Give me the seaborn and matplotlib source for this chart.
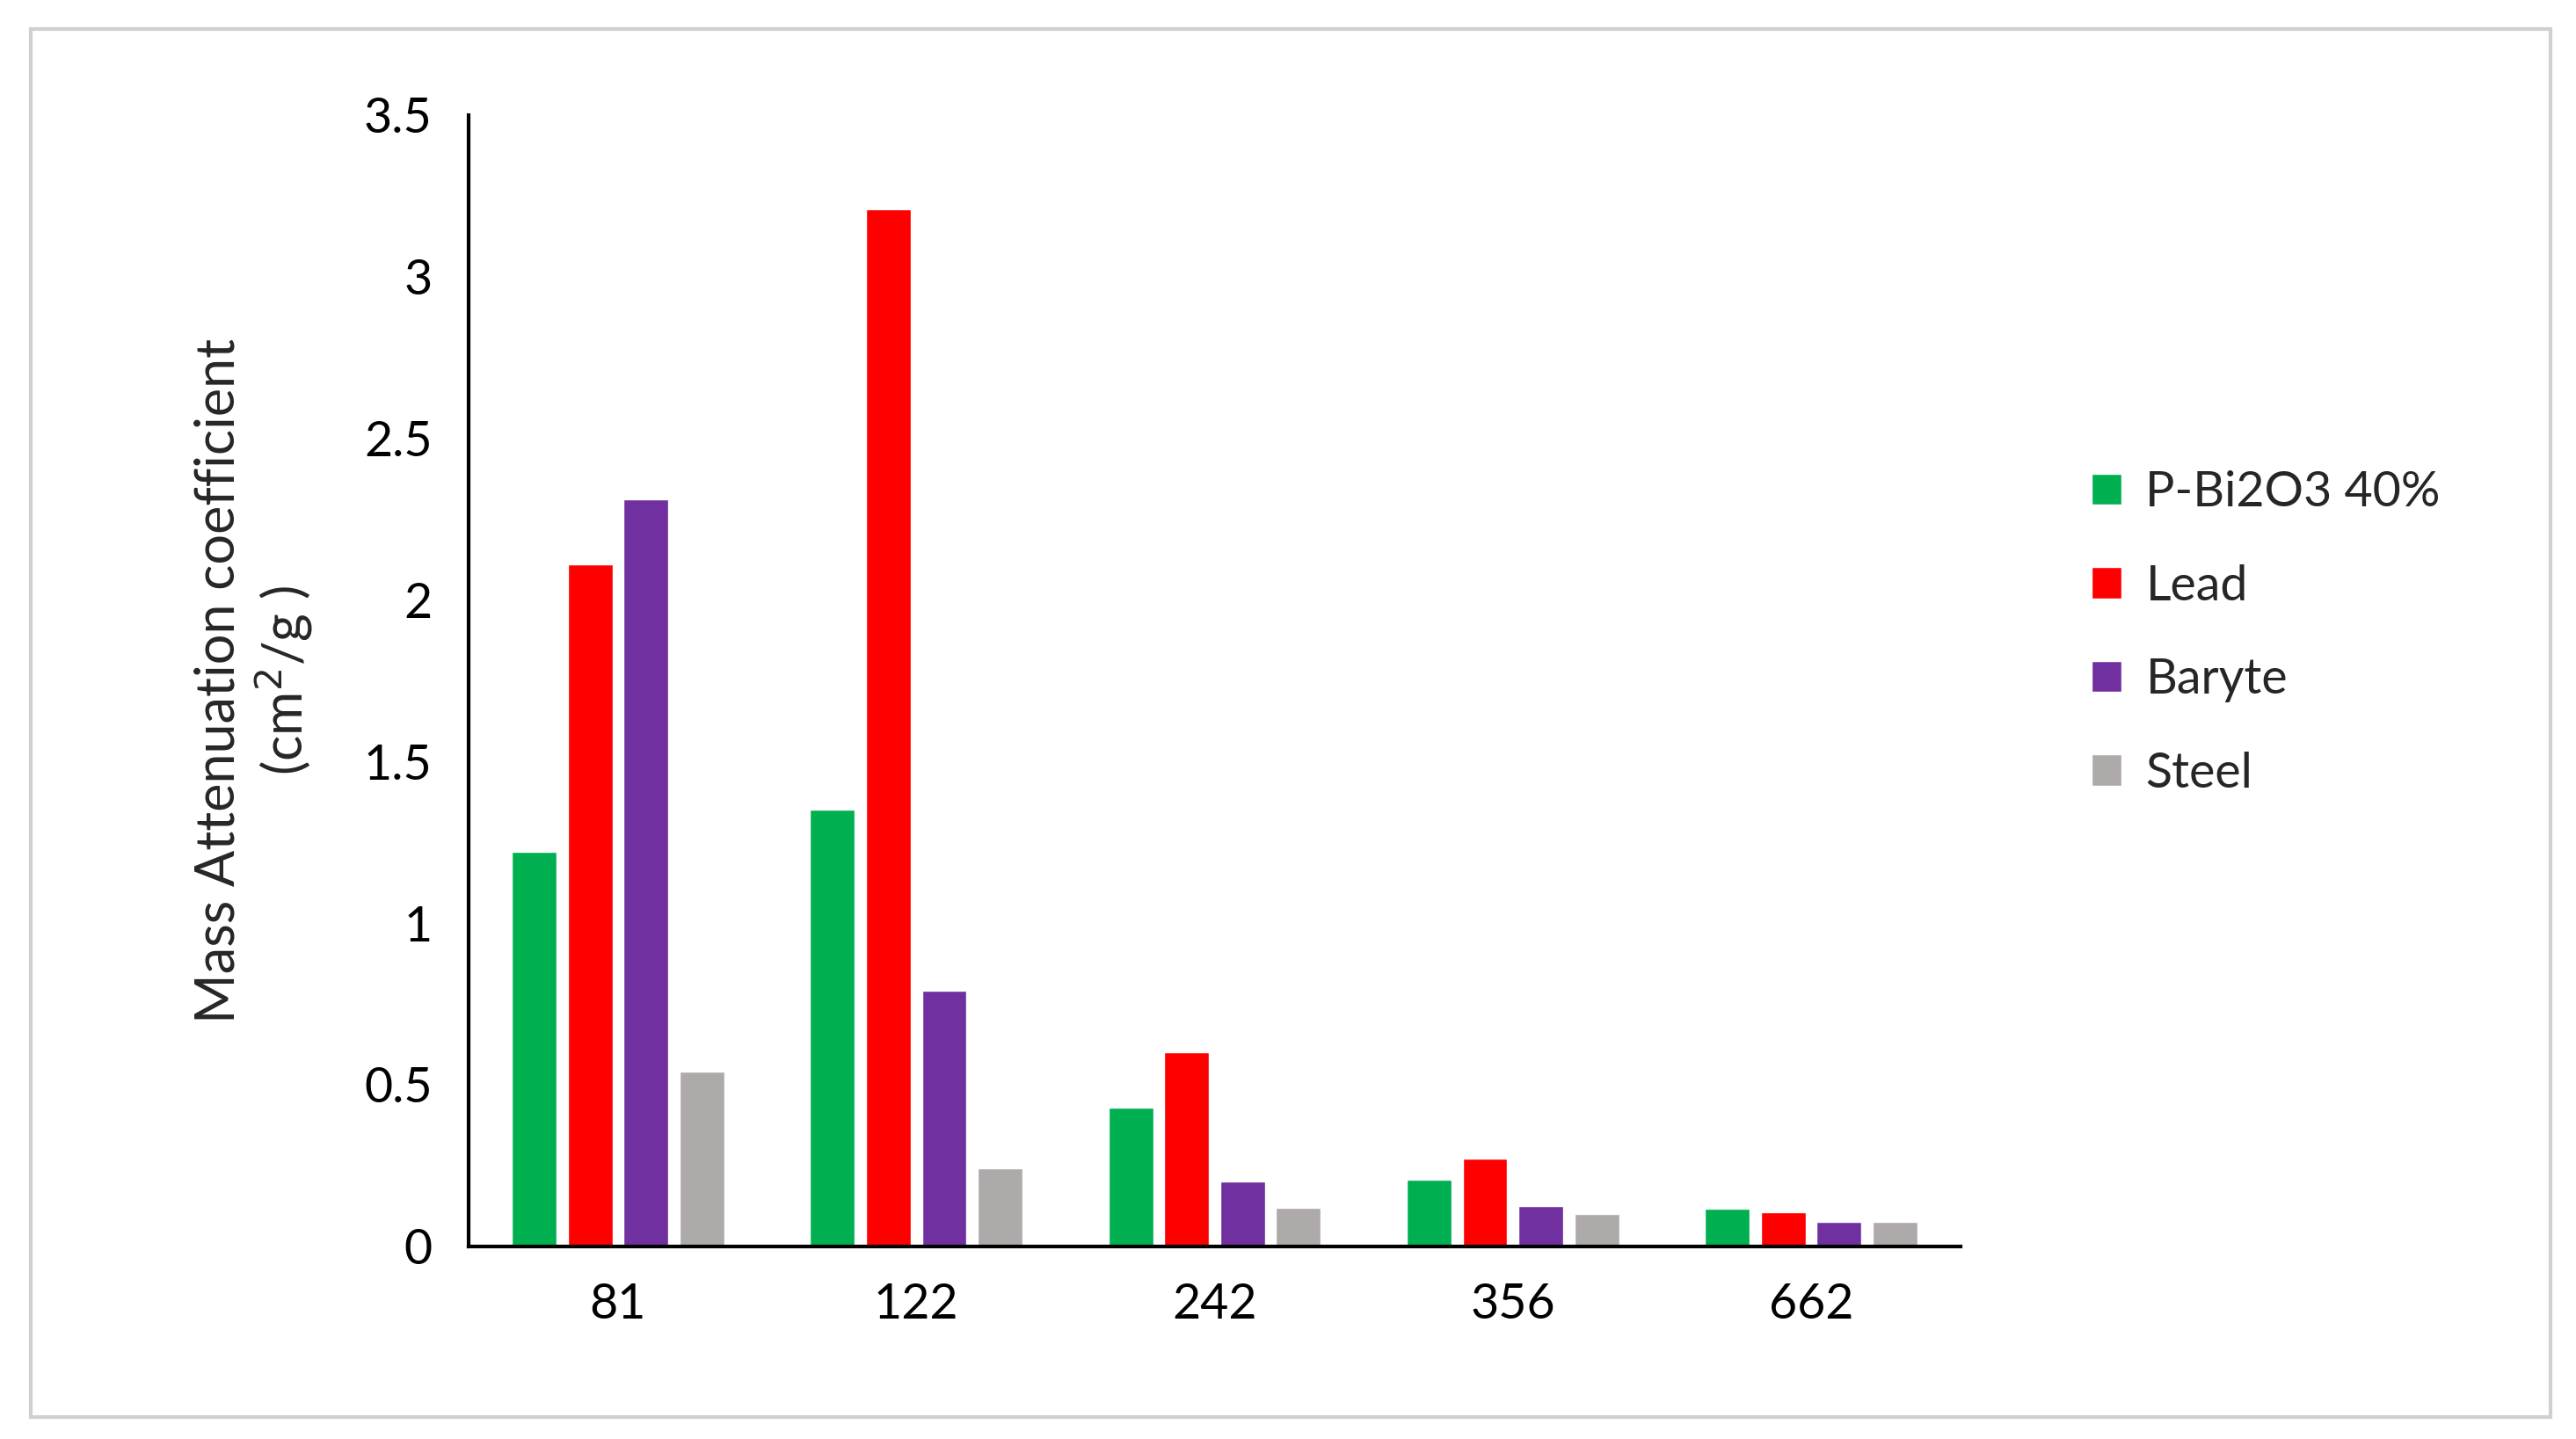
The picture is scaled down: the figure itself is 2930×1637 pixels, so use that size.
import matplotlib
matplotlib.use("Agg")
import matplotlib.pyplot as plt
import seaborn as sns
import pandas as pd
from matplotlib.patches import Rectangle

energies = ["81", "122", "242", "356", "662"]
materials = ["P-Bi2O3 40%", "Lead", "Baryte", "Steel"]
p_bi2o3 = [1.22, 1.35, 0.43, 0.205, 0.115]
lead = [2.11, 3.21, 0.60, 0.27, 0.105]
baryte = [2.31, 0.79, 0.20, 0.125, 0.075]
steel = [0.54, 0.24, 0.12, 0.10, 0.075]
colors = ["#00B050", "#FF0000", "#7030A0", "#AEAAAA"]

rows = []
for mat, vals in zip(materials, [p_bi2o3, lead, baryte, steel]):
    for e, v in zip(energies, vals):
        rows.append({"Energy": e, "Material": mat, "Value": v})
df = pd.DataFrame(rows)

sns.set_style("white")
plt.rcParams["font.family"] = ["Lato", "DejaVu Sans"]

fig = plt.figure(figsize=(29.30, 16.37), dpi=100)
ax = fig.add_axes([0.182, 0.134, 0.579, 0.786])
sns.barplot(data=df, x="Energy", y="Value", hue="Material", order=energies,
            hue_order=materials, palette=colors, width=0.75, gap=0.2,
            saturation=1, ax=ax)

ax.set_ylim(0, 3.5)
ax.set_yticks([0, 0.5, 1, 1.5, 2, 2.5, 3, 3.5])
ax.set_yticklabels(["0", "0.5", "1", "1.5", "2", "2.5", "3", "3.5"])
ax.set_xlabel("")
ax.set_ylabel("Mass Attenuation coefficient\n(cm$^2$/g )", fontsize=44, labelpad=40)
ax.tick_params(axis="both", length=0, labelsize=40, colors="black")
ax.tick_params(axis="x", pad=30)
ax.tick_params(axis="y", pad=30)
for s in ["top", "right"]:
    ax.spines[s].set_visible(False)
for s in ["left", "bottom"]:
    ax.spines[s].set_color("black")
    ax.spines[s].set_linewidth(3)

ax.legend(loc="center left", bbox_to_anchor=(0.795, 0.56), bbox_transform=fig.transFigure,
          frameon=False, fontsize=40, handlelength=0.6, handleheight=0.6,
          labelspacing=1.0, handletextpad=0.5)

fig.patches.append(Rectangle((0.012, 0.015), 0.978, 0.965, transform=fig.transFigure,
                             fill=False, edgecolor="#D0D0D0", linewidth=3))
fig.savefig("out.png", dpi=100)
